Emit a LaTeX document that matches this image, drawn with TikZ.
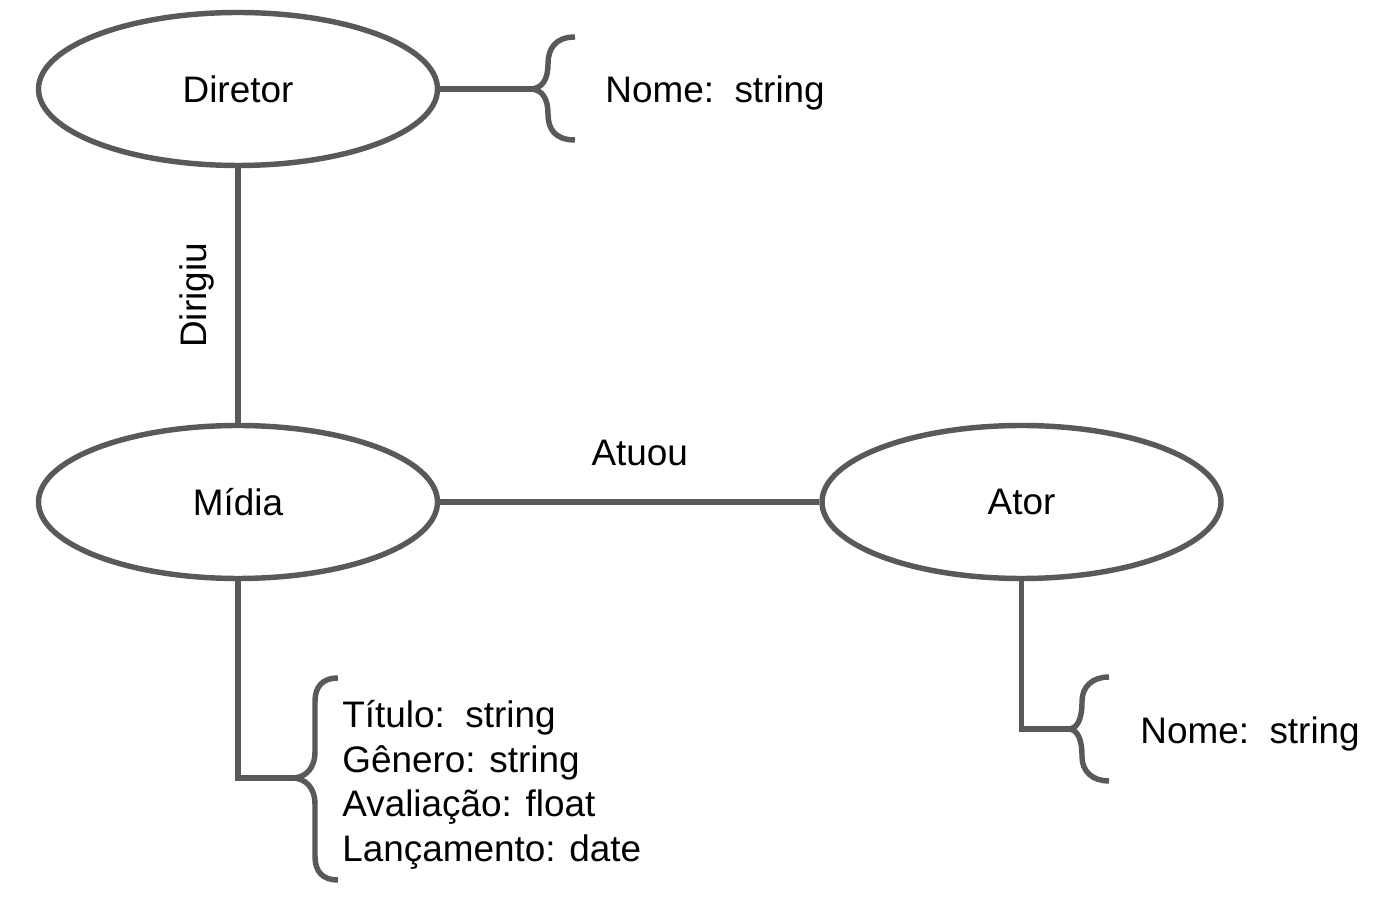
\documentclass[tikz,border=0pt]{standalone}
\usepackage{fontspec}
\setmainfont{Liberation Sans}
\usetikzlibrary{shapes.geometric}
\definecolor{linegray}{HTML}{595959}
\begin{document}
\begin{tikzpicture}[
    entity/.style={ellipse, draw=linegray, line width=3.1pt, minimum width=7.98cm, minimum height=3.06cm, inner sep=0pt},
    link/.style={draw=linegray, line width=3.1pt},
    every node/.style={font=\fontsize{21}{25.4}\selectfont}
]
    \useasboundingbox (0,0) rectangle (27.94,17.98);

    % Entities
    \node[entity] (diretor) at (4.76,16.2) {Diretor};
    \node[entity] (midia) at (4.76,7.94) {Mídia};
    \node[entity] (ator) at (20.43,7.94) {Ator};

    % Relations
    \draw[link] (diretor.south) -- (midia.north) node[midway, left=0.3cm, rotate=90, anchor=south]{Dirigiu};
    \draw[link] (midia.east) -- (ator.west) node[midway, above=0.55cm, xshift=0.2cm]{Atuou};

    % Attributes of Diretor
    \coordinate (tipdiretor) at (10.6,16.2);
    \draw[link] (diretor.east) -- (tipdiretor);
    \draw[link] (11.5,17.24) .. controls (11.1,17.24) and (10.96,17.0) .. (10.96,16.7)
        .. controls (10.96,16.4) and (10.85,16.2) .. (tipdiretor)
        .. controls (10.85,16.2) and (10.96,16.0) .. (10.96,15.7)
        .. controls (10.96,15.4) and (11.1,15.18) .. (11.5,15.18);
    \node[anchor=base west, inner sep=0pt] (nomediretor) at (12.1,15.92) {Nome:\ \ string};

    % Attributes of Midia
    \coordinate (tipmidia) at (5.84,2.42);
    \draw[link] (midia.south) |- (tipmidia);
    \draw[link] (6.76,4.42) .. controls (6.45,4.42) and (6.3,4.25) .. (6.3,3.95) -- (6.3,2.95)
        .. controls (6.3,2.6) and (6.1,2.42) .. (tipmidia)
        .. controls (6.1,2.42) and (6.3,2.24) .. (6.3,1.89) -- (6.3,0.85)
        .. controls (6.3,0.55) and (6.45,0.38) .. (6.76,0.38);
    \node[anchor=west, align=left, inner sep=0pt] (attrmidia) at (6.84,2.28) {Título:\ \ string\\Gênero: string\\Avaliação: float\\Lançamento: date};

    % Attributes of Ator
    \coordinate (tipator) at (21.36,3.4);
    \draw[link] (ator.south) |- (tipator);
    \draw[link] (22.18,4.44) .. controls (21.85,4.44) and (21.64,4.25) .. (21.64,3.95)
        .. controls (21.64,3.6) and (21.55,3.4) .. (tipator)
        .. controls (21.55,3.4) and (21.64,3.2) .. (21.64,2.85)
        .. controls (21.64,2.55) and (21.85,2.36) .. (22.18,2.36);
    \node[anchor=base west, inner sep=0pt] (nomeator) at (22.8,3.1) {Nome:\ \ string};

\end{tikzpicture}
\end{document}
